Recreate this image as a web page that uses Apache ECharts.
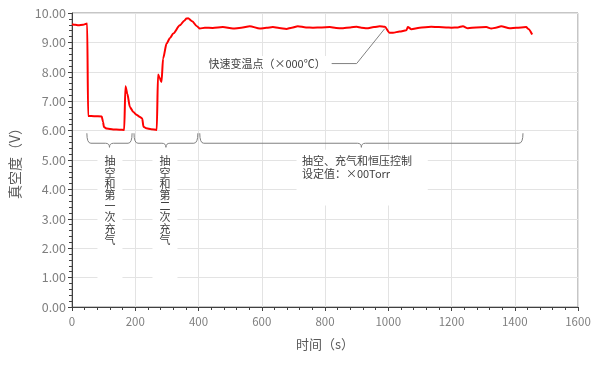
<!DOCTYPE html>
<html><head><meta charset="utf-8">
<script src="https://cdn.jsdelivr.net/npm/echarts@6/dist/echarts.min.js"></script>
<style>html,body{margin:0;padding:0;background:#fff}#c{width:600px;height:365px}</style>
</head><body><div id="c"></div>
<script>
// time (s)
const times = [0,10,20,35,48,51,70,94,98,101,110,130,150,165,169,175,183,194,205,215,222,226,235,250,268,272,277,283,288,299,310,320,341,355,362,367,380,395,404,420,445,477,509,535,562,594,615,635,655,678,695,714,740,762,790,815,835,857,880,900,915,932,955,973,989,1004,1015,1036,1057,1062,1073,1099,1136,1160,1183,1200,1220,1236,1252,1278,1310,1326,1340,1357,1384,1405,1436,1444,1455];
// vacuum (V)
const volts = [9.62,9.60,9.58,9.60,9.64,6.50,6.49,6.48,6.30,6.12,6.07,6.04,6.03,6.02,7.51,7.25,6.80,6.63,6.53,6.46,6.41,6.13,6.08,6.05,6.02,7.91,7.80,7.65,8.45,8.96,9.15,9.30,9.58,9.74,9.81,9.82,9.72,9.55,9.47,9.50,9.49,9.52,9.47,9.50,9.55,9.47,9.50,9.52,9.49,9.46,9.50,9.55,9.51,9.50,9.51,9.52,9.49,9.48,9.51,9.53,9.50,9.48,9.52,9.55,9.53,9.33,9.33,9.37,9.41,9.52,9.45,9.50,9.53,9.52,9.51,9.50,9.51,9.55,9.48,9.51,9.52,9.47,9.50,9.55,9.48,9.50,9.52,9.45,9.27];
const xTicks = [0,200,400,600,800,1000,1200,1400,1600];
const yTicks = [0,1,2,3,4,5,6,7,8,9,10];
const phaseLabels = ['抽空和第一次充气','抽空和第二次充气','抽空、充气和恒压控制\n设定值：×00Torr'];
const calloutLabel = '快速变温点（×000℃）';
// annotation anchors (data units)
const braceRanges = [[47,190],[196,398],[404,1426]];

const FONT = '"Noto Sans CJK SC", "Noto Sans", sans-serif';
const chart = echarts.init(document.getElementById('c'));
const data = times.map((t,i)=>[t,volts[i]]);
chart.setOption({
  animation:false,
  grid:{left:72,right:22,top:13,bottom:58,show:true,borderColor:'#8c8c8c',borderWidth:1,backgroundColor:'transparent'},
  xAxis:{type:'value',min:xTicks[0],max:xTicks[xTicks.length-1],interval:200,
    name:'时间（s）',nameLocation:'middle',nameGap:31,
    nameTextStyle:{color:'#595959',fontSize:13,fontFamily:FONT},
    axisLine:{lineStyle:{color:'#404040',width:1}},
    axisTick:{show:true,length:4,lineStyle:{color:'#404040'}},
    minorTick:{show:true,splitNumber:5,length:3,lineStyle:{color:'#404040'}},
    axisLabel:{color:'#7f7f7f',fontSize:11.5,fontFamily:FONT,margin:9,formatter:v=>String(v)},
    splitLine:{show:true,lineStyle:{color:'#e3e3e3',width:1}}},
  yAxis:{type:'value',min:yTicks[0],max:yTicks[yTicks.length-1],interval:1,
    name:'真空度（V）',nameLocation:'middle',nameGap:50,nameRotate:90,nameMoveOverlap:false,
    nameTextStyle:{color:'#595959',fontSize:14,fontFamily:FONT},
    axisLine:{show:true,lineStyle:{color:'#404040',width:1}},
    axisTick:{show:true,length:4,lineStyle:{color:'#404040'}},
    minorTick:{show:true,splitNumber:5,length:3,lineStyle:{color:'#404040'}},
    axisLabel:{color:'#7f7f7f',fontSize:12.5,fontFamily:FONT,margin:6,formatter:v=>v.toFixed(2)},
    splitLine:{show:true,lineStyle:{color:'#e3e3e3',width:1}}},
  series:[{type:'line',data:data,showSymbol:false,smooth:0.25,smoothMonotone:'x',
    lineStyle:{color:'#ff0000',width:2},z:5}]
});

function px(t,v){return chart.convertToPixel({gridIndex:0},[t,v]);}
const g = [];
const bStyle = {stroke:'#808080',lineWidth:1,fill:null};
// braces
braceRanges.forEach(([a,b])=>{
  const p1 = px(a,5.91), p2 = px(b,5.91), pm = px((a+b)/2,5.57), pb = px((a+b)/2,5.43);
  const x1=p1[0], x2=p2[0], yt=p1[1], ym=pm[1], yb=pb[1], xm=(x1+x2)/2, r=4;
  g.push({type:'bezierCurve',z:10,shape:{x1:x1,y1:yt,cpx1:x1,cpy1:ym,x2:x1+r,y2:ym},style:bStyle});
  g.push({type:'line',z:10,shape:{x1:x1+r,y1:ym,x2:xm-r,y2:ym},style:bStyle});
  g.push({type:'bezierCurve',z:10,shape:{x1:xm-r,y1:ym,cpx1:xm,cpy1:ym,x2:xm,y2:yb},style:bStyle});
  g.push({type:'bezierCurve',z:10,shape:{x1:xm,y1:yb,cpx1:xm,cpy1:ym,x2:xm+r,y2:ym},style:bStyle});
  g.push({type:'line',z:10,shape:{x1:xm+r,y1:ym,x2:x2-r,y2:ym},style:bStyle});
  g.push({type:'bezierCurve',z:10,shape:{x1:x2-r,y1:ym,cpx1:x2,cpy1:ym,x2:x2,y2:yt},style:bStyle});
});
// vertical phase labels with white boxes
[[120,0],[294,1]].forEach(([t,i])=>{
  const top = px(t,5.35), bot = px(t,0.6);
  g.push({type:'rect',z:8,shape:{x:top[0]-12.5,y:top[1],width:25,height:bot[1]-top[1]},style:{fill:'#fff'}});
  g.push({type:'text',z:11,x:top[0],y:top[1]+6,style:{text:phaseLabels[i].split('').join('\n'),font:'11px '+FONT,fill:'#404040',align:'center',verticalAlign:'top',lineHeight:11.2}});
});
// horizontal phase label
{
  const p = px(710,5.35), q = px(1125,3.45);
  g.push({type:'rect',z:8,shape:{x:p[0],y:p[1],width:q[0]-p[0],height:q[1]-p[1]},style:{fill:'#fff'}});
  const tp = px(727,4.75);
  g.push({type:'text',z:11,x:tp[0],y:tp[1],style:{text:phaseLabels[2],font:'11px '+FONT,fill:'#404040',align:'left',verticalAlign:'middle',lineHeight:12.6}});
}
// callout
{
  const tp = px(425,8.28);
  g.push({type:'text',z:11,x:tp[0],y:tp[1],style:{text:calloutLabel,font:'11px '+FONT,fill:'#404040',align:'left',verticalAlign:'middle',backgroundColor:'#fff',padding:[2,2]}});
  const a = px(821,8.28), b = px(900,8.28), c = px(989,9.47);
  g.push({type:'polyline',z:11,shape:{points:[a,b,c]},style:{fill:null,stroke:'#808080',lineWidth:1}});
}
chart.setOption({graphic:g});
</script></body></html>
